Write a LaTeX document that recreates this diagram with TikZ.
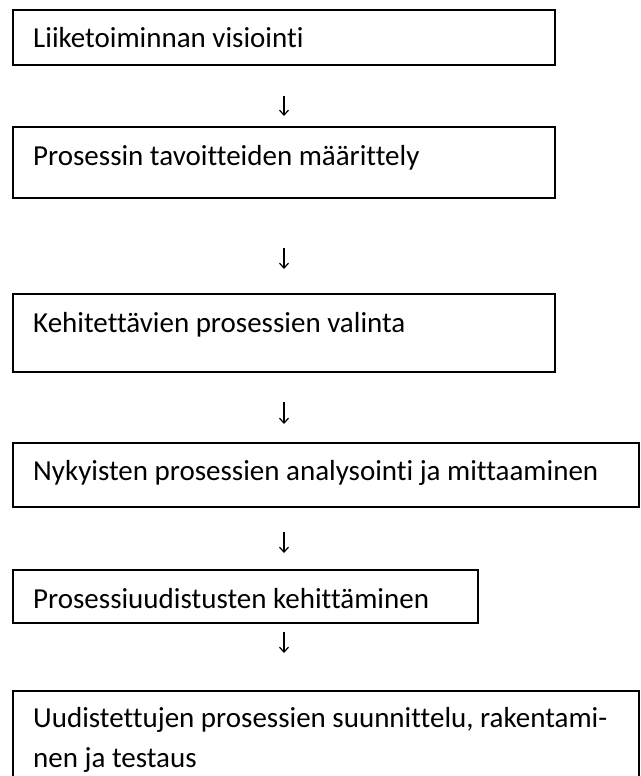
\documentclass[tikz,border=0pt]{standalone}
\usepackage{fontspec}
\setmainfont[Ligatures=NoCommon, RawFeature=-liga]{Carlito}
\usetikzlibrary{arrows.meta}
\tikzset{
  box/.style={draw=black, line width=1.6pt, fill=none, inner sep=0pt, anchor=north west},
  label/.style={anchor=base west, inner sep=0pt, font=\fontsize{29pt}{34pt}\selectfont, text=black},
  flow/.style={line width=1.2pt, -{Straight Barb[length=5pt, width=9pt, line width=1.2pt]}}
}
\begin{document}
\begin{tikzpicture}[x=1pt, y=-1pt]
\fill[white] (0,0) rectangle (640,776);
\useasboundingbox (0,0) rectangle (640,776);
\clip (0,0) rectangle (640,776);
% boxes
\node[box, minimum width=542pt, minimum height=55pt] (b1) at (12,9) {};
\node[box, minimum width=542pt, minimum height=71pt] (b2) at (12,126) {};
\node[box, minimum width=542pt, minimum height=78pt] (b3) at (12,293) {};
\node[box, minimum width=626pt, minimum height=64pt] (b4) at (12,442) {};
\node[box, minimum width=465pt, minimum height=53pt] (b5) at (12,569) {};
\node[box, minimum width=626pt, minimum height=120pt] (b6) at (12,690) {};
% texts
\node[label] (t1) at (33,48) {Liiketoiminnan visiointi};
\node[label] (t2) at (33,165) {Prosessin tavoitteiden määrittely};
\node[label] (t3) at (33,332) {Kehitettävien prosessien valinta};
\node[label] (t4) at (33,480) {Nykyisten prosessien analysointi ja mittaaminen};
\node[label] (t5) at (33,608) {Prosessiuudistusten kehittäminen};
\node[label] (t6a) at (33,727) {Uudistettujen prosessien suunnittelu, rakentami-};
\node[label] (t6b) at (33,767) {nen ja testaus};
% arrows
\coordinate (a1s) at (284,96);
\coordinate (a1e) at (284,116);
\coordinate (a2s) at (284,248);
\coordinate (a2e) at (284,269);
\coordinate (a3s) at (284,402);
\coordinate (a3e) at (284,424);
\coordinate (a4s) at (284,532);
\coordinate (a4e) at (284,553);
\coordinate (a5s) at (284,632);
\coordinate (a5e) at (284,653);
\draw[flow] (a1s) -- (a1e);
\draw[flow] (a2s) -- (a2e);
\draw[flow] (a3s) -- (a3e);
\draw[flow] (a4s) -- (a4e);
\draw[flow] (a5s) -- (a5e);
\end{tikzpicture}
\end{document}
